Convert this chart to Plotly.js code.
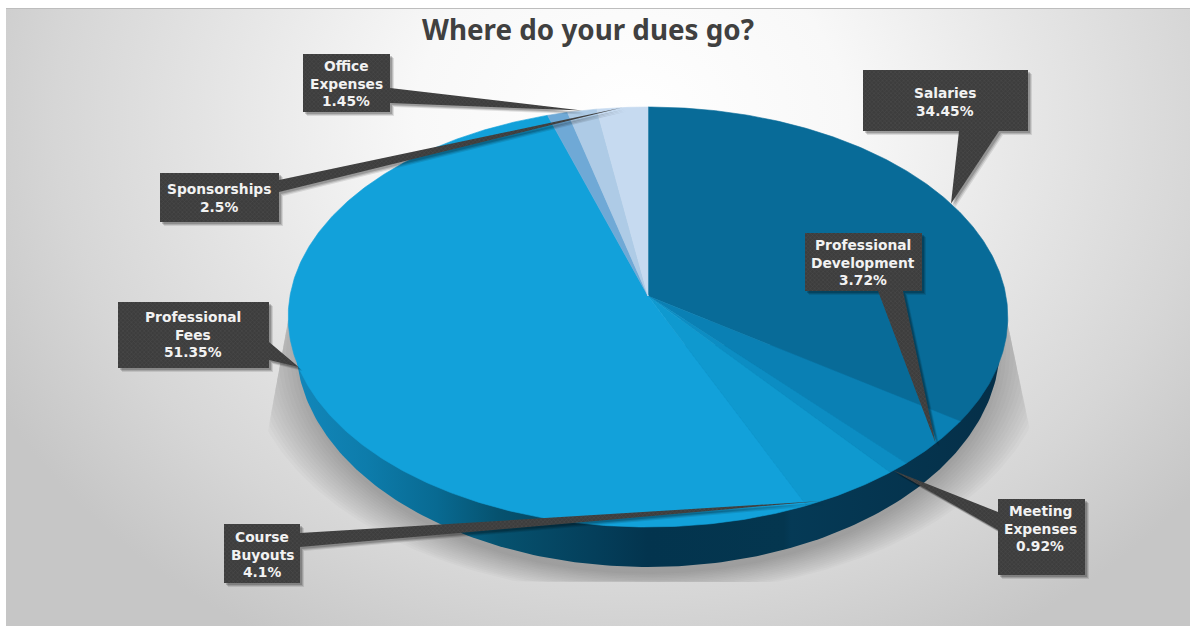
<!DOCTYPE html>
<html>
<head>
<meta charset="utf-8">
<script src="https://cdn.plot.ly/plotly-3.0.1.min.js"></script>
<style>
  html, body { margin: 0; padding: 0; background: #fff; }
  #frame { position: absolute; left: 6px; top: 8px; width: 1184px; height: 618px;
           border-top: 1px solid #bdbdbd; box-sizing: border-box;
           background: radial-gradient(ellipse 720px 600px at 625px 110px,
             #ffffff 0%, #f8f8f8 30%, #e6e6e6 56%, #d6d6d6 80%, #c6c6c6 100%); }
  #chart { position: absolute; left: 0; top: 0; width: 1190px; height: 626px; }
</style>
</head>
<body>
<div id="frame"></div>
<div id="chart"></div>
<script>
// Budget shares, clockwise from twelve o'clock
const categories = ['Salaries', 'Professional Development', 'Meeting Expenses', 'Course Buyouts',
                    'Professional Fees', 'Other', 'Office Expenses', 'Sponsorships'];
const shares = [34.45, 3.72, 0.92, 4.1, 51.35, 1.0, 1.45, 2.5];
const sliceColors = ['#086b98', '#0a80b4', '#0c8dc3', '#0f99cf', '#12a1da', '#6fa9d6', '#aecbe6', '#c6daf0'];
const labelLines = [['Salaries'], ['Professional', 'Development'], ['Meeting', 'Expenses'], ['Course', 'Buyouts'],
                    ['Professional', 'Fees'], null, ['Office', 'Expenses'], ['Sponsorships']];

// Callout placement: box [x0, y0, x1, y1], leader base points, tip offset in degrees, text centre x and first-line y
const calloutBoxes = [[863, 70, 1028, 131], [805, 233, 922, 291], [998, 499, 1085, 575], [224, 524, 300, 583],
                      [118, 302, 269, 368], null, [303, 54, 390, 112], [160, 173, 279, 222]];
const calloutBases = [[[959, 131], [999, 131]], [[878, 291], [903, 291]], [[998, 512], [998, 530]], [[300, 533], [300, 547]],
                      [[269, 342], [269, 360]], null, [[390, 88], [390, 103]], [[279, 180], [279, 192]]];
const calloutTipOffsets = [0, 0, 1, 5, 1.5, 0, 0, 0];
const calloutText = [[945, 93], [863, 245], [1040, 511], [262, 537], [193, 317], null, [346, 66], [219, 189]];

// Tilted-disc projection of the pie's top face
const APEX_X = 648, APEX_Y = 296, HALF_W = 358, HALF_H = 207.9, PERSPECTIVE = 0.1;
const total = shares.reduce((a, b) => a + b, 0);

function project(deg) {
  const t = deg * Math.PI / 180, u = Math.sin(t), v = Math.cos(t), w = 1 + PERSPECTIVE * v;
  return [APEX_X + HALF_W * u / w, APEX_Y - HALF_H * v / w];
}
function polygon(points) {
  const closed = points.concat([points[0]]);
  return { x: closed.map(p => p[0]), y: closed.map(p => p[1]) };
}
function ellipse(cx, cy, rx, ry) {
  const pts = [];
  for (let a = 0; a < 360; a += 1) {
    const t = a * Math.PI / 180;
    pts.push([cx + rx * Math.cos(t), cy + ry * Math.sin(t)]);
  }
  return pts;
}
function filled(points, color, name, extra) {
  return Object.assign({ type: 'scatter', mode: 'lines', fill: 'toself', fillcolor: color, name: name,
    line: { width: 0, color: color }, hoverinfo: 'skip', showlegend: false }, polygon(points), extra || {});
}

const traces = [];

// Cast shadow behind the disc: flat floor, top cut off, sides bounded by two slanted edges
function clipShadow(p) {
  const y = Math.max(320, Math.min(p[1], 582));
  const slope = Math.min(1, (y - 320) / 110);
  const left = 288 - 20 * slope, right = 1007 + 23 * slope;
  return [Math.max(left, Math.min(p[0], right)), y];
}
for (let i = 0; i < 14; i++) {
  traces.push(filled(ellipse(648, 352, 350 + i * 4, 222 + i * 1.6).map(clipShadow), 'rgba(0,0,0,0.018)', 'shadow'));
}

// Side wall of the disc
const wall = ellipse(648, 345, 352, 222).filter(p => p[1] >= 345);
wall.sort((a, b) => a[0] - b[0]);
traces.push(filled(wall, '#053a56', 'side wall', {
  fillgradient: { type: 'horizontal', colorscale: [
    [0, '#1287ba'], [0.10, '#0d7cab'], [0.2, '#086a92'], [0.287, '#06526f'],
    [0.423, '#043f5b'], [0.5, '#03344e'], [0.693, '#04364f'], [0.703, '#053a56'], [1, '#052f48']] }
}));

// Top face: one wedge per category
let running = 0;
const midAngles = shares.map((value, i) => {
  const start = running / total * 360;
  running += value;
  const end = running / total * 360;
  const pts = [[APEX_X, APEX_Y]];
  for (let a = start; a < end; a += 0.5) pts.push(project(a));
  pts.push(project(end));
  traces.push(filled(pts, sliceColors[i], categories[i], { line: { width: 0.6, color: sliceColors[i] } }));
  return (start + end) / 2;
});

// Callouts: dark textured box and tapered leader that ends on the slice's rim
const annotations = [];
const texture = { shape: 'x', size: 3, solidity: 0.35, fgcolor: '#4b4b4b', bgcolor: '#3d3d3d' };
shares.forEach((value, i) => {
  if (!calloutBoxes[i]) return;
  const [x0, y0, x1, y1] = calloutBoxes[i];
  const tip = project(midAngles[i] + calloutTipOffsets[i]);
  const leader = [calloutBases[i][0], tip, calloutBases[i][1]];
  const box = [[x0, y0], [x1, y0], [x1, y1], [x0, y1]];
  [[4, 0.10], [3, 0.14], [2, 0.18]].forEach(([d, a]) => {
    const off = p => [p[0] + d, p[1] + d];
    traces.push(filled(leader.map(off), `rgba(0,0,0,${a})`, 'callout shadow'));
    traces.push(filled(box.map(off), `rgba(0,0,0,${a})`, 'callout shadow'));
  });
  traces.push(filled(leader, '#444444', categories[i] + ' leader', { fillpattern: texture }));
  traces.push(filled(box, '#444444', categories[i] + ' box', { fillpattern: texture }));
  const lines = labelLines[i].concat([value + '%']);
  lines.forEach((line, k) => {
    annotations.push({ x: calloutText[i][0], y: calloutText[i][1] + k * 17.5, text: line, showarrow: false,
      xref: 'x', yref: 'y', xanchor: 'center', yanchor: 'middle',
      font: { family: 'DejaVu Sans', size: 13.8, color: '#f2f2f2', weight: 700 } });
  });
});

const layout = {
  width: 1190, height: 626,
  margin: { l: 0, r: 0, t: 0, b: 0 },
  paper_bgcolor: 'rgba(0,0,0,0)', plot_bgcolor: 'rgba(0,0,0,0)',
  title: { text: '<b>Where do your dues go?</b>', x: 588 / 1190, xanchor: 'center', y: 1 - 30 / 626, yanchor: 'middle',
           font: { family: 'Noto Sans', size: 27.8, color: '#404040' } },
  xaxis: { range: [0, 1190], visible: false, fixedrange: true },
  yaxis: { range: [626, 0], visible: false, fixedrange: true },
  annotations: annotations,
  showlegend: false
};
Plotly.newPlot('chart', traces, layout, { displayModeBar: false, staticPlot: true });
</script>
</body>
</html>
